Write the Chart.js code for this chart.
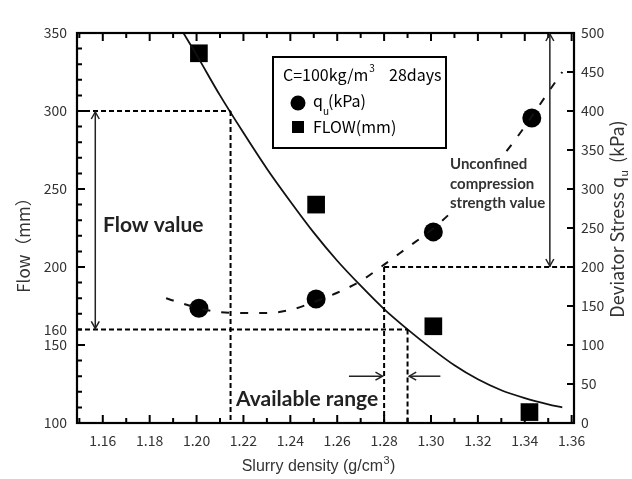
<!DOCTYPE html>
<html>
<head>
<meta charset="utf-8">
<script src="https://cdn.jsdelivr.net/npm/chart.js@4.4.0/dist/chart.umd.min.js"></script>
<style>
  html, body { margin: 0; padding: 0; background: #fff; }
  #wrap { width: 632px; height: 479px; }
</style>
</head>
<body>
<div id="wrap"><canvas id="myChart" width="632" height="479"></canvas></div>
<script>
// measured points
const flowX   = [1.201, 1.251, 1.301, 1.342];
const flowVal = [337, 240, 162, 107];
const quX     = [1.201, 1.251, 1.301, 1.343];
const quVal   = [147, 159, 245, 391];

// fitted curves
const flowCurveX = [1.194, 1.20, 1.21, 1.22, 1.23, 1.24, 1.25, 1.26, 1.27, 1.28, 1.29, 1.30, 1.31, 1.32, 1.33, 1.34, 1.35, 1.356];
const flowCurveY = [351, 336, 310, 286, 263, 242, 222, 204, 188, 173, 160, 148, 137, 128, 121, 116, 112, 110];
const quCurveX = [1.187, 1.19, 1.20, 1.21, 1.22, 1.23, 1.24, 1.25, 1.26, 1.27, 1.28, 1.29, 1.30, 1.31, 1.32, 1.33, 1.34, 1.35, 1.356];
const quCurveY = [160, 157, 148, 142, 141, 141, 145, 155, 167, 182, 203, 225, 247, 274, 305, 340, 380, 424, 450];

// tick labels
const xTicks = [1.16, 1.18, 1.20, 1.22, 1.24, 1.26, 1.28, 1.30, 1.32, 1.34, 1.36];
const yTicks = [100, 150, 160, 200, 250, 300, 350];
const y1Ticks = [0, 50, 100, 150, 200, 250, 300, 350, 400, 450, 500];

// guide lines (dashed) and range markers
const xMin = 1.149, xMax = 1.361;
const rangeLeft = 1.2145, rangeA = 1.28, rangeB = 1.29;
const flowHigh = 300, flowLow = 160, quLimit = 200;

function seg(x1, y1, x2, y2){ return [{x: x1, y: y1}, {x: x2, y: y2}]; }

const guide = { type: 'line', borderColor: '#000', borderWidth: 2, borderDash: [5, 3], pointRadius: 0, fill: false };
const solid = { type: 'line', borderColor: '#222', borderWidth: 1.5, pointRadius: 0, fill: false };

let datasets = [
  Object.assign({ data: seg(xMin, flowHigh, rangeLeft, flowHigh), yAxisID: 'y' }, guide),
  Object.assign({ data: seg(rangeLeft, flowHigh, rangeLeft, 100), yAxisID: 'y' }, guide),
  Object.assign({ data: seg(xMin, flowLow, rangeB, flowLow), yAxisID: 'y' }, guide),
  Object.assign({ data: seg(rangeB, flowLow, rangeB, 100), yAxisID: 'y' }, guide),
  Object.assign({ data: seg(rangeA, quLimit, rangeA, 0), yAxisID: 'y1' }, guide),
  Object.assign({ data: seg(rangeA, quLimit, xMax, quLimit), yAxisID: 'y1' }, guide),
  // arrows
  Object.assign({ data: seg(1.1568, flowHigh, 1.1568, flowLow), yAxisID: 'y' }, solid),
  Object.assign({ data: seg(1.3507, 500, 1.3507, quLimit), yAxisID: 'y1' }, solid),
  Object.assign({ data: seg(1.265, 130, 1.2793, 130), yAxisID: 'y' }, solid),
  Object.assign({ data: seg(1.304, 130, 1.2907, 130), yAxisID: 'y' }, solid),
  {
    type: 'line', yAxisID: 'y',
    data: flowCurveX.map((x, i) => ({x: x, y: flowCurveY[i]})),
    borderColor: '#111', borderWidth: 1.8, pointRadius: 0, tension: 0.4, cubicInterpolationMode: 'monotone'
  },
  {
    type: 'line', yAxisID: 'y1',
    data: quCurveX.map((x, i) => ({x: x, y: quCurveY[i]})),
    borderColor: '#111', borderWidth: 2, borderDash: [8, 11], pointRadius: 0, tension: 0.4, cubicInterpolationMode: 'monotone'
  },
  {
    type: 'scatter', yAxisID: 'y',
    data: flowX.map((x, i) => ({x: x, y: flowVal[i]})),
    pointStyle: 'rect', pointRadius: 12.5, backgroundColor: '#000', borderColor: '#000', borderWidth: 0
  },
  {
    type: 'scatter', yAxisID: 'y1',
    data: quX.map((x, i) => ({x: x, y: quVal[i]})),
    pointStyle: 'circle', pointRadius: 9.5, backgroundColor: '#000', borderColor: '#000', borderWidth: 0
  }
];

const tickFont = { family: "'Noto Sans CJK JP', 'DejaVu Sans'", size: 14 };

function arrowHead(ctx, x, y, dir){
  // dir: 'up','down','left','right'
  let s = 7, w = 4;
  ctx.beginPath();
  if (dir == 'up'){ ctx.moveTo(x - w, y + s); ctx.lineTo(x, y); ctx.lineTo(x + w, y + s); }
  if (dir == 'down'){ ctx.moveTo(x - w, y - s); ctx.lineTo(x, y); ctx.lineTo(x + w, y - s); }
  if (dir == 'right'){ ctx.moveTo(x - s, y - w); ctx.lineTo(x, y); ctx.lineTo(x - s, y + w); }
  if (dir == 'left'){ ctx.moveTo(x + s, y - w); ctx.lineTo(x, y); ctx.lineTo(x + s, y + w); }
  ctx.stroke();
}

function boxedText(ctx, txt, x, y, h){
  let tw = ctx.measureText(txt).width;
  let old = ctx.fillStyle;
  ctx.fillStyle = '#fff';
  ctx.fillRect(x - 2, y - h / 2, tw + 4, h);
  ctx.fillStyle = old;
  ctx.fillText(txt, x, y);
}

const decor = {
  id: 'decor',
  afterDatasetsDraw(chart){
    let ctx = chart.ctx;
    let a = chart.chartArea;
    let sx = chart.scales.x, sy = chart.scales.y, sy1 = chart.scales.y1;
    ctx.save();

    // inward ticks
    ctx.strokeStyle = '#000';
    ctx.lineWidth = 2;
    ctx.beginPath();
    for (let v = 100; v <= 350; v += 10){
      let py = sy.getPixelForValue(v);
      let len = (v % 50 == 0) ? 8 : 5;
      ctx.moveTo(a.left, py); ctx.lineTo(a.left + len, py);
    }
    for (let v = 50; v < 500; v += 50){
      let py = sy1.getPixelForValue(v);
      ctx.moveTo(a.right, py); ctx.lineTo(a.right - 7, py);
    }
    for (let i = 115; i <= 136; i++){
      let v = i / 100;
      let px = sx.getPixelForValue(v);
      let len = (i % 2 == 0) ? 8 : 5;
      ctx.moveTo(px, a.bottom); ctx.lineTo(px, a.bottom - len);
      ctx.moveTo(px, a.top); ctx.lineTo(px, a.top + len);
    }
    ctx.stroke();

    // frame
    ctx.lineWidth = 2.2;
    ctx.strokeRect(a.left, a.top, a.right - a.left, a.bottom - a.top);

    // arrow heads
    ctx.lineWidth = 1.5;
    ctx.strokeStyle = '#222';
    let ax = sx.getPixelForValue(1.1568);
    arrowHead(ctx, ax, sy.getPixelForValue(flowHigh) + 1, 'up');
    arrowHead(ctx, ax, sy.getPixelForValue(flowLow) - 1, 'down');
    let bx = sx.getPixelForValue(1.3507);
    arrowHead(ctx, bx, sy1.getPixelForValue(500) + 1, 'up');
    arrowHead(ctx, bx, sy1.getPixelForValue(quLimit) - 1, 'down');
    let hy = sy.getPixelForValue(130);
    arrowHead(ctx, sx.getPixelForValue(1.2793), hy, 'right');
    arrowHead(ctx, sx.getPixelForValue(1.2907), hy, 'left');

    // annotation text
    ctx.fillStyle = '#222';
    ctx.textBaseline = 'middle';
    ctx.textAlign = 'left';
    ctx.font = "bold 21px Lato, 'Open Sans'";
    ctx.fillText('Flow value', 103, 225);
    ctx.fillText('Available range', 236, 399);
    ctx.font = "bold 15px Lato, 'Open Sans'";
    ctx.fillStyle = '#333';
    boxedText(ctx, 'Unconfined', 450, 164, 20);
    boxedText(ctx, 'compression', 450, 184, 20);
    boxedText(ctx, 'strength value', 450, 203, 20);

    // legend box
    ctx.fillStyle = '#fff';
    ctx.fillRect(273, 57, 173, 91);
    ctx.lineWidth = 2;
    ctx.strokeStyle = '#000';
    ctx.strokeRect(273, 57, 173, 91);
    ctx.fillStyle = '#000';
    ctx.font = "16px 'Noto Sans CJK JP'";
    ctx.fillText('C=100kg/m', 283, 75);
    let w = ctx.measureText('C=100kg/m').width;
    ctx.font = "10px 'Noto Sans CJK JP'";
    ctx.fillText('3', 283 + w + 1, 68);
    ctx.font = "16px 'Noto Sans CJK JP'";
    ctx.fillText('28days', 389, 75);
    ctx.beginPath(); ctx.arc(298, 103, 7.5, 0, Math.PI * 2); ctx.fill();
    ctx.fillRect(292, 121, 12, 12);
    ctx.fillText('q', 313, 101);
    ctx.font = "10px 'Noto Sans CJK JP'";
    ctx.fillText('u', 323, 111);
    ctx.font = "16px 'Noto Sans CJK JP'";
    ctx.fillText('(kPa)', 328, 101);
    ctx.fillText('FLOW(mm)', 313, 127);

    // axis titles
    ctx.fillStyle = '#333';
    ctx.font = "16px 'Liberation Sans', Arial";
    let t1 = 'Slurry density (g/cm';
    let tw = ctx.measureText(t1 + ')').width + 6;
    let tx = 318 - tw / 2;
    ctx.textAlign = 'left';
    ctx.fillText(t1, tx, 467);
    let t1w = ctx.measureText(t1).width;
    ctx.font = "11px 'Liberation Sans', Arial";
    ctx.fillText('3', tx + t1w + 0.5, 461);
    ctx.font = "16px 'Liberation Sans', Arial";
    ctx.fillText(')', tx + t1w + 7, 467);

    ctx.save();
    ctx.translate(24, 241);
    ctx.rotate(-Math.PI / 2);
    ctx.textAlign = 'center';
    ctx.font = "17px 'Noto Sans CJK JP'";
    ctx.fillText('Flow\uFF08mm\uFF09', 0, 0);
    ctx.restore();

    ctx.save();
    ctx.translate(617, 219);
    ctx.rotate(-Math.PI / 2);
    ctx.textAlign = 'left';
    ctx.font = "18px 'Noto Sans CJK JP'";
    let p1 = 'Deviator Stress q', p2 = '(kPa)';
    let w1 = ctx.measureText(p1).width;
    ctx.font = "11px 'Noto Sans CJK JP'";
    let wu = ctx.measureText('u').width;
    ctx.font = "18px 'Noto Sans CJK JP'";
    let w2 = ctx.measureText(p2).width;
    let total = w1 + wu + 7 + w2;
    let st = -total / 2;
    ctx.fillText(p1, st, 0);
    ctx.font = "11px 'Noto Sans CJK JP'";
    ctx.fillText('u', st + w1, 7);
    ctx.font = "18px 'Noto Sans CJK JP'";
    ctx.fillText(p2, st + w1 + wu + 7, 0);
    ctx.restore();

    ctx.restore();
  }
};

window.addEventListener("load", () => {
  let ctx = document.getElementById("myChart").getContext("2d");
  new Chart(ctx, {
    data: { datasets: datasets },
    options: {
      responsive: false,
      animation: false,
      layout: { padding: { top: 33, left: 0, right: 0, bottom: 0 } },
      plugins: { legend: { display: false }, tooltip: { enabled: false } },
      scales: {
        x: {
          type: 'linear', position: 'bottom', min: xMin, max: xMax,
          grid: { display: false, drawTicks: false }, border: { display: false },
          afterBuildTicks: (s) => { s.ticks = xTicks.map(v => ({value: v})); },
          afterFit: (s) => { s.height = 56; },
          ticks: { autoSkip: false, maxRotation: 0, padding: 9, color: '#333', font: tickFont,
                   callback: (v) => v.toFixed(2) }
        },
        y: {
          type: 'linear', position: 'left', min: 100, max: 350,
          grid: { display: false, drawTicks: false }, border: { display: false },
          afterBuildTicks: (s) => { s.ticks = yTicks.map(v => ({value: v})); },
          afterFit: (s) => { s.width = 77; },
          ticks: { autoSkip: false, padding: 10, color: '#333', font: tickFont }
        },
        y1: {
          type: 'linear', position: 'right', min: 0, max: 500,
          grid: { display: false, drawTicks: false }, border: { display: false },
          afterBuildTicks: (s) => { s.ticks = y1Ticks.map(v => ({value: v})); },
          afterFit: (s) => { s.width = 58; },
          ticks: { autoSkip: false, padding: 7, color: '#333', font: tickFont }
        }
      }
    },
    plugins: [decor]
  });
});
</script>
</body>
</html>
